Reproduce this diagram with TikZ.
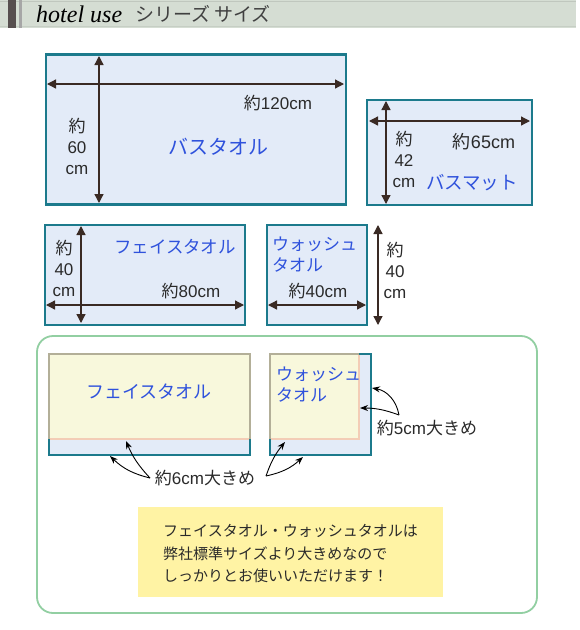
\documentclass[tikz,border=0pt]{standalone}
\usepackage{fontspec}
\setmainfont{Noto Sans CJK JP}
\newfontfamily\latfont{Liberation Sans}
\newfontfamily\hotelfont{Liberation Serif}
\newcommand\latn[1]{{\latfont #1}}
\usetikzlibrary{arrows.meta}
\definecolor{teal1}{HTML}{1C7A8C}
\definecolor{boxfill}{HTML}{E3EBF8}
\definecolor{bluetxt}{HTML}{2F52DC}
\definecolor{greenln}{HTML}{92CFA2}
\definecolor{creamf}{HTML}{F8F8DC}
\definecolor{khaki}{HTML}{B3AF98}
\definecolor{salmon}{HTML}{F3CDB6}
\definecolor{yell}{HTML}{FFF3A4}
\definecolor{hdr}{HTML}{D5DDD3}
\definecolor{txt}{HTML}{2A2A2A}
\definecolor{hbar}{HTML}{574F4F}
\definecolor{arr}{HTML}{3A2A24}
\tikzset{
  towel/.style={draw=teal1,line width=2.4pt,fill=boxfill},
  dimarrow/.style={draw=arr,line width=1.3pt,{Triangle[length=9pt,width=9pt]}-{Triangle[length=9pt,width=9pt]}},
  dimtxt/.style={font=\fontsize{17}{21}\selectfont,text=txt,align=center,inner sep=0pt},
  nametxt/.style={font=\fontsize{17}{20}\selectfont,text=bluetxt,inner sep=0pt},
  ptr/.style={draw=black,line width=0.9pt,-{Stealth[length=8pt,width=6pt]}},
}
\begin{document}
\begin{tikzpicture}[x=1pt,y=-1pt]
\useasboundingbox (0,0) rectangle (580,630);
\fill[white] (0,0) rectangle (580,630);
% header
\fill[hdr] (0,0) rectangle (576,28);
\fill[hdr!90!black] (0,1) rectangle (576,2);
\fill[hdr!93!black] (0,26) rectangle (576,27);
\fill[hbar] (8,0) rectangle (16,28);
\fill[gray!70] (19,0) rectangle (22,28);
\node[anchor=base west,inner sep=0pt,font=\hotelfont\itshape\fontsize{24}{26}\selectfont] (ttl) at (36,22) {hotel use};
\node[anchor=base west,inner sep=0pt,font=\fontsize{19}{20}\selectfont,text=black!75] (ttl2) at (135,21) {シリーズ サイズ};

% bath towel
\node[towel,minimum width=300pt,minimum height=150pt,inner sep=0pt] (bt) at (196,129.5) {};
\coordinate (btv1) at (99,56); \coordinate (btv2) at (99,203);
\coordinate (bth1) at (47,84); \coordinate (bth2) at (344,84);
\draw[dimarrow] (btv1) -- (btv2);
\draw[dimarrow] (bth1) -- (bth2);
\node[dimtxt] (bt120) at (278,103) {約\latn{120cm}};
\node[dimtxt] (bt60) at (77,146) {約\\\latn{60}\\\latn{cm}};
\node[nametxt,font=\fontsize{20}{22}\selectfont] (btn) at (218,147) {バスタオル};

% bath mat
\node[towel,minimum width=165pt,minimum height=105pt,inner sep=0pt] (bm) at (449.5,152.5) {};
\coordinate (bmv1) at (386,101); \coordinate (bmv2) at (386,204);
\coordinate (bmh1) at (369,121); \coordinate (bmh2) at (530,121);
\draw[dimarrow] (bmv1) -- (bmv2);
\draw[dimarrow] (bmh1) -- (bmh2);
\node[dimtxt,font=\fontsize{18}{20}\selectfont] (bm65) at (484,142) {約\latn{65cm}};
\node[dimtxt] (bm42) at (404,159) {約\\\latn{42}\\\latn{cm}};
\node[nametxt,font=\fontsize{18.5}{22}\selectfont] (bmn) at (472,183) {バスマット};

% face towel
\node[towel,minimum width=200pt,minimum height=100pt,inner sep=0pt] (ft) at (145,275) {};
\coordinate (ftv1) at (81,226); \coordinate (ftv2) at (81,323);
\coordinate (fth1) at (46,305); \coordinate (fth2) at (244,305);
\draw[dimarrow] (ftv1) -- (ftv2);
\draw[dimarrow] (fth1) -- (fth2);
\node[dimtxt] (ft80) at (191,291) {約\latn{80cm}};
\node[dimtxt] (ft40) at (64,268) {約\\\latn{40}\\\latn{cm}};
\node[nametxt,font=\fontsize{17.5}{20}\selectfont] (ftn) at (175,247) {フェイスタオル};

% wash towel
\node[towel,minimum width=100pt,minimum height=100pt,inner sep=0pt] (wt) at (317,275) {};
\coordinate (wth1) at (268,305); \coordinate (wth2) at (366,305);
\coordinate (wtv1) at (378,225); \coordinate (wtv2) at (378,325);
\draw[dimarrow] (wth1) -- (wth2);
\draw[dimarrow] (wtv1) -- (wtv2);
\node[dimtxt] (wt40) at (318,291) {約\latn{40cm}};
\node[dimtxt] (wt40v) at (395,270) {約\\\latn{40}\\\latn{cm}};
\node[nametxt,align=left,anchor=west,font=\fontsize{17}{21}\selectfont] (wtn) at (272,255) {ウォッシュ\\タオル};

% comparison frame
\draw[greenln,line width=1.8pt,rounded corners=16pt] (37,336) rectangle (537,613);

% face comparison
\fill[boxfill] (49,354) rectangle (250,455);
\draw[teal1,line width=2.2pt] (49,439) -- (49,455) -- (250,455) -- (250,439);
\fill[creamf] (49,354) rectangle (250,439);
\draw[khaki,line width=2.2pt] (49,439) -- (49,354) -- (250,354) -- (250,439);
\draw[salmon,line width=2pt] (50,439) -- (249,439);
\node[nametxt,font=\fontsize{18}{20}\selectfont] (ftc) at (149,392) {フェイスタオル};

% wash comparison
\fill[boxfill] (270,354) rectangle (371,455);
\draw[teal1,line width=2.2pt] (270,439) -- (270,455) -- (371,455) -- (371,354) -- (359,354);
\fill[creamf] (270,354) rectangle (359,439);
\draw[khaki,line width=2.2pt] (270,439) -- (270,354) -- (359,354);
\draw[salmon,line width=2pt] (359,355) -- (359,439) -- (271,439);
\node[nametxt,align=left,anchor=west,font=\fontsize{17}{21}\selectfont] (wtc) at (276,385) {ウォッシュ\\タオル};

% labels and pointers
\node[dimtxt] (l5) at (427,428) {約\latn{5cm}大きめ};
\node[dimtxt] (l6) at (205,478) {約\latn{6cm}大きめ};
\coordinate (p5a) at (372,388); \coordinate (p5b) at (360,408);
\coordinate (s5) at (399,415);
\draw[ptr] (s5) to[bend right=35] (p5a);
\draw[ptr] (s5) to[bend right=10] (p5b);
\coordinate (s6l) at (150,478);
\coordinate (p6a) at (110,456); \coordinate (p6b) at (126,441);
\draw[ptr] (s6l) to[bend left=15] (p6a);
\draw[ptr] (s6l) to[bend left=10] (p6b);
\coordinate (s6r) at (266,476);
\coordinate (p6c) at (285,442); \coordinate (p6d) at (303,457);
\draw[ptr] (s6r) to[bend left=10] (p6c);
\draw[ptr] (s6r) to[bend right=15] (p6d);

% note
\node[fill=yell,minimum width=305pt,minimum height=90pt,inner sep=0pt] (note) at (290.5,552) {};
\node[anchor=west,align=left,inner sep=0pt,text=txt,font=\fontsize{15}{22.5}\selectfont] (notetxt) at (163,554) {フェイスタオル・ウォッシュタオルは\\弊社標準サイズより大きめなので\\しっかりとお使いいただけます！};
\end{tikzpicture}
\end{document}
